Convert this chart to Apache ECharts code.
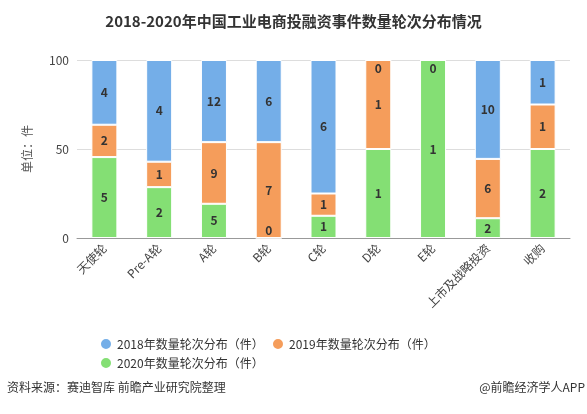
<!DOCTYPE html>
<html><head><meta charset="utf-8">
<script src="https://cdn.jsdelivr.net/npm/echarts@6/dist/echarts.min.js"></script>
<style>html,body{margin:0;padding:0;background:#fff}#c{width:587px;height:414px}</style>
</head><body><div id="c"></div>
<script>
var categories = ['天使轮','Pre-A轮','A轮','B轮','C轮','D轮','E轮','上市及战略投资','收购'];
var count2018 = [4, 4, 12, 6, 6, 0, 0, 10, 1];
var count2019 = [2, 1, 9, 7, 1, 1, 0, 6, 1];
var count2020 = [5, 2, 5, 0, 1, 1, 1, 2, 2];
var seriesNames = ['2018年数量轮次分布（件）','2019年数量轮次分布（件）','2020年数量轮次分布（件）'];
var yTicks = [0, 50, 100];

var totals = categories.map(function(_, i){ return count2018[i] + count2019[i] + count2020[i]; });
var colors = ['#74aee8', '#f59d5b', '#84df74'];
var font = '"Noto Sans CJK SC", "Noto Sans", sans-serif';

// stack order bottom->top: 2020, 2019, 2018
var stackOrder = [count2020, count2019, count2018];
function build(level){
  var arr = stackOrder[level];
  return arr.map(function(v, i){
    var item = { value: totals[i] ? v / totals[i] * 100 : 0, count: v };
    if (v === 0) {
      var below = 0;
      for (var k = 0; k < level; k++) below += stackOrder[k][i];
      if (below === 0) {
        item.label = { offset: [0, -8] };
      } else if (level === stackOrder.length - 1) {
        item.label = { offset: [0, 8] };
      } else {
        item.label = { show: false };
      }
    }
    return item;
  });
}

function mk(name, level, color){
  return {
    name: name, type: 'bar', stack: 'total', barWidth: 26,
    data: build(level),
    itemStyle: { color: color, borderColor: '#fff', borderWidth: 1 },
    label: { show: true, position: 'inside', color: '#333', fontWeight: 'bold', fontSize: 12, fontFamily: font,
      formatter: function(p){ return p.data.count; } }
  };
}

function lg(name, left, top){
  return { data: [name], left: left, top: top, icon: 'circle', itemWidth: 12, itemHeight: 12,
    textStyle: { fontSize: 12, color: '#333', fontFamily: font } };
}

var chart = echarts.init(document.getElementById('c'));
chart.setOption({
  animation: false,
  backgroundColor: '#fff',
  title: { text: '2018-2020年中国工业电商投融资事件数量轮次分布情况', left: 'center', top: 9,
    textStyle: { fontSize: 15, fontWeight: 'bold', color: '#333', fontFamily: font } },
  grid: { left: 77, right: 17, top: 60, bottom: 176 },
  legend: [lg(seriesNames[0], 94, 332), lg(seriesNames[1], 266, 332), lg(seriesNames[2], 94, 351)],
  xAxis: {
    type: 'category', data: categories,
    axisLine: { lineStyle: { color: '#999' } },
    axisTick: { alignWithLabel: true, lineStyle: { color: '#999' } },
    axisLabel: { rotate: 45, fontSize: 12, color: '#444', fontFamily: font, margin: 8 }
  },
  yAxis: {
    type: 'value', min: 0, max: 100, interval: 50,
    name: '单位：件', nameLocation: 'middle', nameGap: 44, nameRotate: 90,
    nameTextStyle: { fontSize: 12, color: '#555', fontFamily: font },
    axisLine: { show: false }, axisTick: { show: false },
    axisLabel: { fontSize: 12, color: '#444', fontFamily: font,
      formatter: function(v){ return yTicks.indexOf(v) >= 0 ? v : ''; } },
    splitLine: { lineStyle: { color: '#ddd' } }
  },
  series: [
    mk(seriesNames[2], 0, colors[2]),
    mk(seriesNames[1], 1, colors[1]),
    mk(seriesNames[0], 2, colors[0])
  ],
  graphic: [
    { type: 'text', left: 7, top: 381, style: { text: '资料来源：赛迪智库 前瞻产业研究院整理', fontSize: 12, fill: '#333', fontFamily: font } },
    { type: 'text', right: 2, top: 381, style: { text: '@前瞻经济学人APP', fontSize: 12, fill: '#333', fontFamily: font } }
  ]
});
</script></body></html>
